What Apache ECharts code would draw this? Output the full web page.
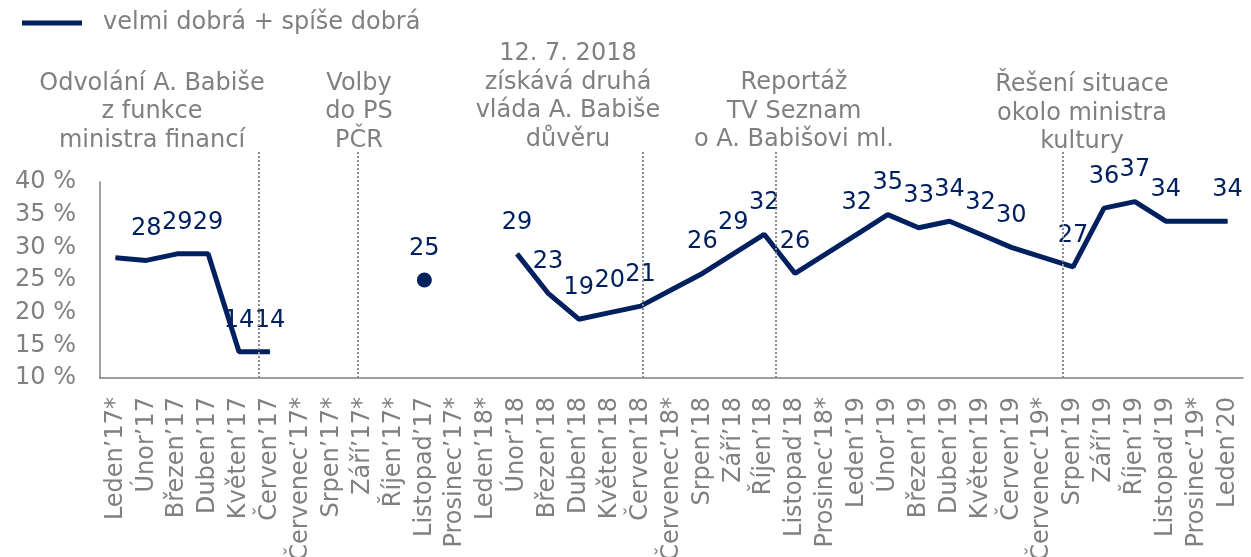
<!DOCTYPE html>
<html>
<head>
<meta charset="utf-8">
<script src="https://cdn.jsdelivr.net/npm/echarts@6/dist/echarts.min.js"></script>
<style>
html, body { margin: 0; padding: 0; background: #fff; }
#chart { width: 1251px; height: 557px; }
</style>
</head>
<body>
<div id="chart"></div>
<script>
// kategorie (měsíce), * = dopočtená hodnota bez popisku
const months = ['Leden’17*', 'Únor’17', 'Březen’17', 'Duben’17', 'Květen’17', 'Červen’17',
  'Červenec’17*', 'Srpen’17*', 'Září’17*', 'Říjen’17*', 'Listopad’17', 'Prosinec’17*',
  'Leden’18*', 'Únor’18', 'Březen’18', 'Duben’18', 'Květen’18', 'Červen’18',
  'Červenec’18*', 'Srpen’18', 'Září’18', 'Říjen’18', 'Listopad’18', 'Prosinec’18*',
  'Leden’19', 'Únor’19', 'Březen’19', 'Duben’19', 'Květen’19', 'Červen’19',
  'Červenec’19*', 'Srpen’19', 'Září’19', 'Říjen’19', 'Listopad’19', 'Prosinec’19*', 'Leden’20'];

// velmi dobrá + spíše dobrá (%)
const goodLine = [28.4, 28, 29, 29, 14, 14,
  null, null, null, null, null, null,
  null, 29, 23, 19, 20, 21,
  23.5, 26, 29, 32, 26, 29,
  32, 35, 33, 34, 32, 30,
  28.5, 27, 36, 37, 34, 34, 34];

// samostatný bod (Listopad'17)
const goodPoint = [null, null, null, null, null, null,
  null, null, null, null, 25, null,
  null, null, null, null, null, null,
  null, null, null, null, null, null,
  null, null, null, null, null, null,
  null, null, null, null, null, null, null];

const yTicks = { min: 10, max: 40, step: 5 };

// události – poloha na ose kategorií (index měsíce)
const eventPos = [4.65, 7.83, 17.08, 21.37, 30.65];
const eventText = [
  'Odvolání A. Babiše\nz funkce\nministra financí',
  'Volby\ndo PS\nPČR',
  '12. 7. 2018\nzískává druhá\nvláda A. Babiše\ndůvěru',
  'Reportáž\nTV Seznam\no A. Babišovi ml.',
  'Řešení situace\nokolo ministra\nkultury'
];
const eventTextX = [152, 359, 568, 794, 1082];
const eventTextY = [112, 112, 97, 111.5, 113.5];

const navy = '#002060';
const grey = '#808080';
const font = 'DejaVu Sans, Verdana, sans-serif';
const fs = 24;
const seriesName = 'velmi dobrá + spíše dobrá';

let chart = echarts.init(document.getElementById('chart'));

let graphics = [];
for (let i in eventText) {
  graphics.push({
    type: 'text',
    x: eventTextX[i],
    y: eventTextY[i],
    silent: true,
    style: {
      text: eventText[i],
      align: 'center',
      verticalAlign: 'middle',
      fontFamily: font,
      fontSize: fs,
      lineHeight: 28.5,
      fill: grey
    }
  });
}

let option = {
  animation: false,
  legend: {
    data: [seriesName],
    left: 22,
    top: 11,
    padding: 0,
    icon: 'rect',
    itemWidth: 60,
    itemHeight: 5,
    textStyle: { color: grey, fontSize: fs, fontFamily: font, padding: [0, 0, 0, 16] },
    selectedMode: false
  },
  grid: [
    { left: 100, right: 8, top: 182, bottom: 179, outerBoundsMode: 'none', containLabel: false },
    { left: 100, right: 8, top: 150, bottom: 179, outerBoundsMode: 'none', containLabel: false }
  ],
  xAxis: [
    {
      type: 'category',
      gridIndex: 0,
      data: months,
      boundaryGap: true,
      axisLine: { lineStyle: { color: grey, width: 1.5 } },
      axisTick: { show: false },
      axisLabel: {
        rotate: 90,
        interval: 0,
        margin: 19,
        color: grey,
        fontSize: fs,
        fontFamily: font
      }
    },
    {
      type: 'value',
      gridIndex: 1,
      min: -0.5,
      max: months.length - 0.5,
      show: false
    }
  ],
  yAxis: [
    {
      type: 'value',
      gridIndex: 0,
      min: yTicks.min,
      max: yTicks.max,
      interval: yTicks.step,
      axisLine: { show: true, lineStyle: { color: grey, width: 1.5 } },
      axisTick: { show: false },
      splitLine: { show: false },
      axisLabel: {
        formatter: '{value} %',
        margin: 24,
        color: grey,
        fontSize: fs,
        fontFamily: font
      }
    },
    {
      type: 'value',
      gridIndex: 1,
      min: 0,
      max: 1,
      show: false
    }
  ],
  graphic: graphics,
  series: [
    {
      name: seriesName,
      type: 'line',
      xAxisIndex: 0,
      yAxisIndex: 0,
      data: goodLine,
      connectNulls: false,
      symbol: 'circle',
      symbolSize: 1,
      showSymbol: true,
      itemStyle: { color: navy },
      lineStyle: { color: navy, width: 5 },
      label: {
        show: true,
        position: 'top',
        distance: 19,
        color: navy,
        fontSize: fs,
        fontFamily: font,
        formatter: function (p) {
          if (p.value == null || months[p.dataIndex].endsWith('*')) return '';
          return p.value;
        }
      }
    },
    {
      name: 'bod',
      type: 'scatter',
      xAxisIndex: 0,
      yAxisIndex: 0,
      data: goodPoint,
      symbol: 'circle',
      symbolSize: 15,
      itemStyle: { color: navy, opacity: 1 },
      label: {
        show: true,
        position: 'top',
        distance: 12,
        color: navy,
        fontSize: fs,
        fontFamily: font
      }
    },
    {
      name: 'udalosti',
      type: 'line',
      xAxisIndex: 1,
      yAxisIndex: 1,
      data: [[0, -1]],
      symbol: 'none',
      lineStyle: { opacity: 0 },
      silent: true,
      markLine: {
        silent: true,
        symbol: ['none', 'none'],
        label: { show: false },
        lineStyle: { color: '#8c8c8c', type: [2, 2], width: 2 },
        data: eventPos.map(v => ({ xAxis: v }))
      }
    }
  ]
};

chart.setOption(option);
</script>
</body>
</html>
